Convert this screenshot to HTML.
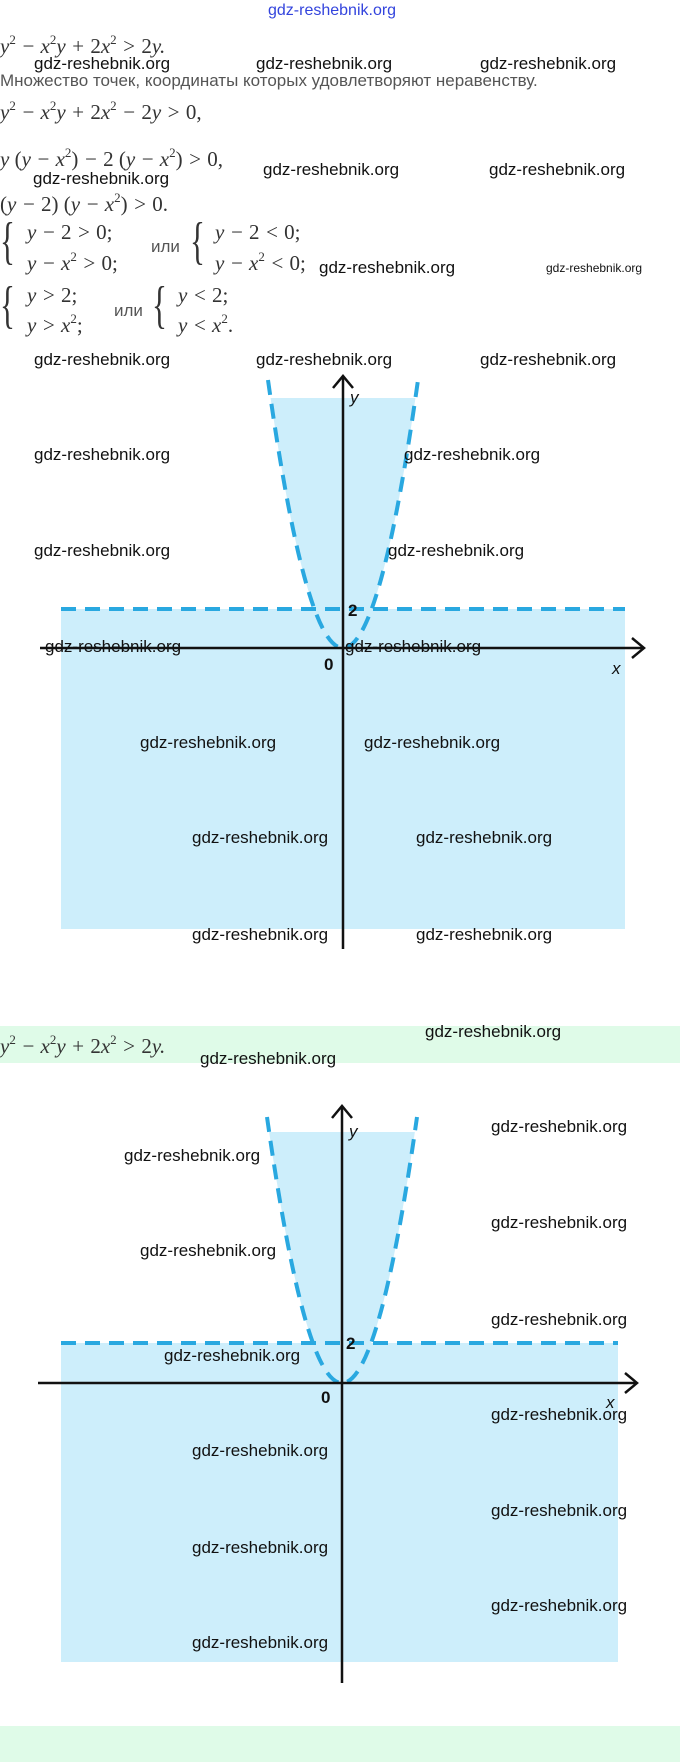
<!DOCTYPE html>
<html><head><meta charset="utf-8"><style>
body{margin:0;width:680px;height:1762px;background:#fff;position:relative;overflow:hidden}
.m{position:absolute;font-family:"Liberation Serif",serif;font-style:italic;font-size:21px;color:#333;white-space:nowrap;line-height:1}
.m sup{font-size:13px;vertical-align:9px;font-style:normal}
.m .n{font-style:normal}
.t{position:absolute;font-family:"Liberation Sans",sans-serif;font-size:17px;color:#555;white-space:nowrap;line-height:1}
.w{position:absolute;font-family:"Liberation Sans",sans-serif;font-size:17px;color:#111;white-space:nowrap;line-height:1}
.br{position:absolute;font-family:"Liberation Serif",serif;font-size:52px;color:#333;line-height:1;transform:scaleX(0.6);transform-origin:left}
</style></head><body>
<div style="position:absolute;left:0;top:1026px;width:680px;height:37px;background:#dffbe8"></div>
<div style="position:absolute;left:0;top:1726px;width:680px;height:36px;background:#dffbe8"></div>

<svg width="680" height="1762" style="position:absolute;left:0;top:0">
<defs>
<clipPath id="c1"><path d="M268,380 Q343,916 418,380 Z"/></clipPath>
<clipPath id="c2"><path d="M267,1117 Q342,1649 417,1117 Z"/></clipPath>
</defs>
<g fill="#cdeefb">
<rect x="61" y="609" width="564" height="320"/>
<rect x="250" y="398" width="190" height="211" clip-path="url(#c1)"/>
<rect x="61" y="1343" width="557" height="319"/>
<rect x="250" y="1132" width="190" height="211" clip-path="url(#c2)"/>
</g>
<g stroke="#29a8e0" stroke-width="4" fill="none" stroke-dasharray="15 9">
<line x1="61" y1="609" x2="625" y2="609"/>
<path d="M268,380 Q343,916 418,380"/>
<line x1="61" y1="1343" x2="618" y2="1343"/>
<path d="M267,1117 Q342,1649 417,1117"/>
</g>
<g stroke="#111" stroke-width="2.5" fill="none">
<line x1="343" y1="376" x2="343" y2="949"/>
<polyline points="333,388 343,376 353,388"/>
<line x1="40" y1="648" x2="644" y2="648"/>
<polyline points="632,638 644,648 632,658"/>
<line x1="342" y1="1106" x2="342" y2="1683"/>
<polyline points="332,1118 342,1106 352,1118"/>
<line x1="38" y1="1383" x2="637" y2="1383"/>
<polyline points="625,1373 637,1383 625,1393"/>
</g>
<g font-family="Liberation Sans,sans-serif" font-size="17" fill="#111">
<text x="350" y="403" font-style="italic">y</text>
<text x="348" y="616" font-weight="bold">2</text>
<text x="324" y="670" font-weight="bold">0</text>
<text x="612" y="674" font-style="italic">x</text>
<text x="349" y="1137" font-style="italic">y</text>
<text x="346" y="1349" font-weight="bold">2</text>
<text x="321" y="1403" font-weight="bold">0</text>
<text x="606" y="1408" font-style="italic">x</text>
</g>
</svg>

<div class="w" style="left:268px;top:3px;color:#3344dd;font-size:16px">gdz-reshebnik.org</div>

<div class="m" style="left:0;top:33px">y<sup>2</sup> − x<sup>2</sup>y + <span class="n">2</span>x<sup>2</sup> &gt; <span class="n">2</span>y.</div>
<div class="t" style="left:0;top:72px">Множество точек, координаты которых удовлетворяют неравенству.</div>
<div class="m" style="left:0;top:99px">y<sup>2</sup> − x<sup>2</sup>y + <span class="n">2</span>x<sup>2</sup> − <span class="n">2</span>y &gt; <span class="n">0,</span></div>
<div class="m" style="left:0;top:146px">y <span class="n">(</span>y − x<sup>2</sup><span class="n">)</span> − <span class="n">2 (</span>y − x<sup>2</sup><span class="n">)</span> &gt; <span class="n">0,</span></div>
<div class="m" style="left:0;top:191px"><span class="n">(</span>y − <span class="n">2) (</span>y − x<sup>2</sup><span class="n">)</span> &gt; <span class="n">0.</span></div>

<div class="br" style="left:0;top:216px">{</div>
<div class="m" style="left:27px;top:222px">y − <span class="n">2</span> &gt; <span class="n">0;</span></div>
<div class="m" style="left:27px;top:250px">y − x<sup>2</sup> &gt; <span class="n">0;</span></div>
<div class="t" style="left:151px;top:238px">или</div>
<div class="br" style="left:190px;top:216px">{</div>
<div class="m" style="left:215px;top:222px">y − <span class="n">2</span> &lt; <span class="n">0;</span></div>
<div class="m" style="left:215px;top:250px">y − x<sup>2</sup> &lt; <span class="n">0;</span></div>

<div class="br" style="left:0;top:280px">{</div>
<div class="m" style="left:27px;top:285px">y &gt; <span class="n">2;</span></div>
<div class="m" style="left:27px;top:312px">y &gt; x<sup>2</sup><span class="n">;</span></div>
<div class="t" style="left:114px;top:302px">или</div>
<div class="br" style="left:152px;top:280px">{</div>
<div class="m" style="left:178px;top:285px">y &lt; <span class="n">2;</span></div>
<div class="m" style="left:178px;top:312px">y &lt; x<sup>2</sup><span class="n">.</span></div>

<div class="m" style="left:0;top:1033px">y<sup>2</sup> − x<sup>2</sup>y + <span class="n">2</span>x<sup>2</sup> &gt; <span class="n">2</span>y.</div>

<div class="w" style="left:34px;top:55px">gdz-reshebnik.org</div>
<div class="w" style="left:256px;top:55px">gdz-reshebnik.org</div>
<div class="w" style="left:480px;top:55px">gdz-reshebnik.org</div>
<div class="w" style="left:33px;top:170px">gdz-reshebnik.org</div>
<div class="w" style="left:263px;top:161px">gdz-reshebnik.org</div>
<div class="w" style="left:489px;top:161px">gdz-reshebnik.org</div>
<div class="w" style="left:319px;top:259px">gdz-reshebnik.org</div>
<div class="w" style="left:546px;top:262px;font-size:12px">gdz-reshebnik.org</div>

<div class="w" style="left:34px;top:351px">gdz-reshebnik.org</div>
<div class="w" style="left:256px;top:351px">gdz-reshebnik.org</div>
<div class="w" style="left:480px;top:351px">gdz-reshebnik.org</div>
<div class="w" style="left:34px;top:446px">gdz-reshebnik.org</div>
<div class="w" style="left:404px;top:446px">gdz-reshebnik.org</div>
<div class="w" style="left:34px;top:542px">gdz-reshebnik.org</div>
<div class="w" style="left:388px;top:542px">gdz-reshebnik.org</div>
<div class="w" style="left:45px;top:638px">gdz-reshebnik.org</div>
<div class="w" style="left:345px;top:638px">gdz-reshebnik.org</div>
<div class="w" style="left:140px;top:734px">gdz-reshebnik.org</div>
<div class="w" style="left:364px;top:734px">gdz-reshebnik.org</div>
<div class="w" style="left:192px;top:829px">gdz-reshebnik.org</div>
<div class="w" style="left:416px;top:829px">gdz-reshebnik.org</div>
<div class="w" style="left:192px;top:926px">gdz-reshebnik.org</div>
<div class="w" style="left:416px;top:926px">gdz-reshebnik.org</div>

<div class="w" style="left:425px;top:1023px">gdz-reshebnik.org</div>
<div class="w" style="left:200px;top:1050px">gdz-reshebnik.org</div>
<div class="w" style="left:491px;top:1118px">gdz-reshebnik.org</div>
<div class="w" style="left:124px;top:1147px">gdz-reshebnik.org</div>
<div class="w" style="left:491px;top:1214px">gdz-reshebnik.org</div>
<div class="w" style="left:140px;top:1242px">gdz-reshebnik.org</div>
<div class="w" style="left:491px;top:1311px">gdz-reshebnik.org</div>
<div class="w" style="left:164px;top:1347px">gdz-reshebnik.org</div>
<div class="w" style="left:491px;top:1406px">gdz-reshebnik.org</div>
<div class="w" style="left:192px;top:1442px">gdz-reshebnik.org</div>
<div class="w" style="left:491px;top:1502px">gdz-reshebnik.org</div>
<div class="w" style="left:192px;top:1539px">gdz-reshebnik.org</div>
<div class="w" style="left:491px;top:1597px">gdz-reshebnik.org</div>
<div class="w" style="left:192px;top:1634px">gdz-reshebnik.org</div>
</body></html>
